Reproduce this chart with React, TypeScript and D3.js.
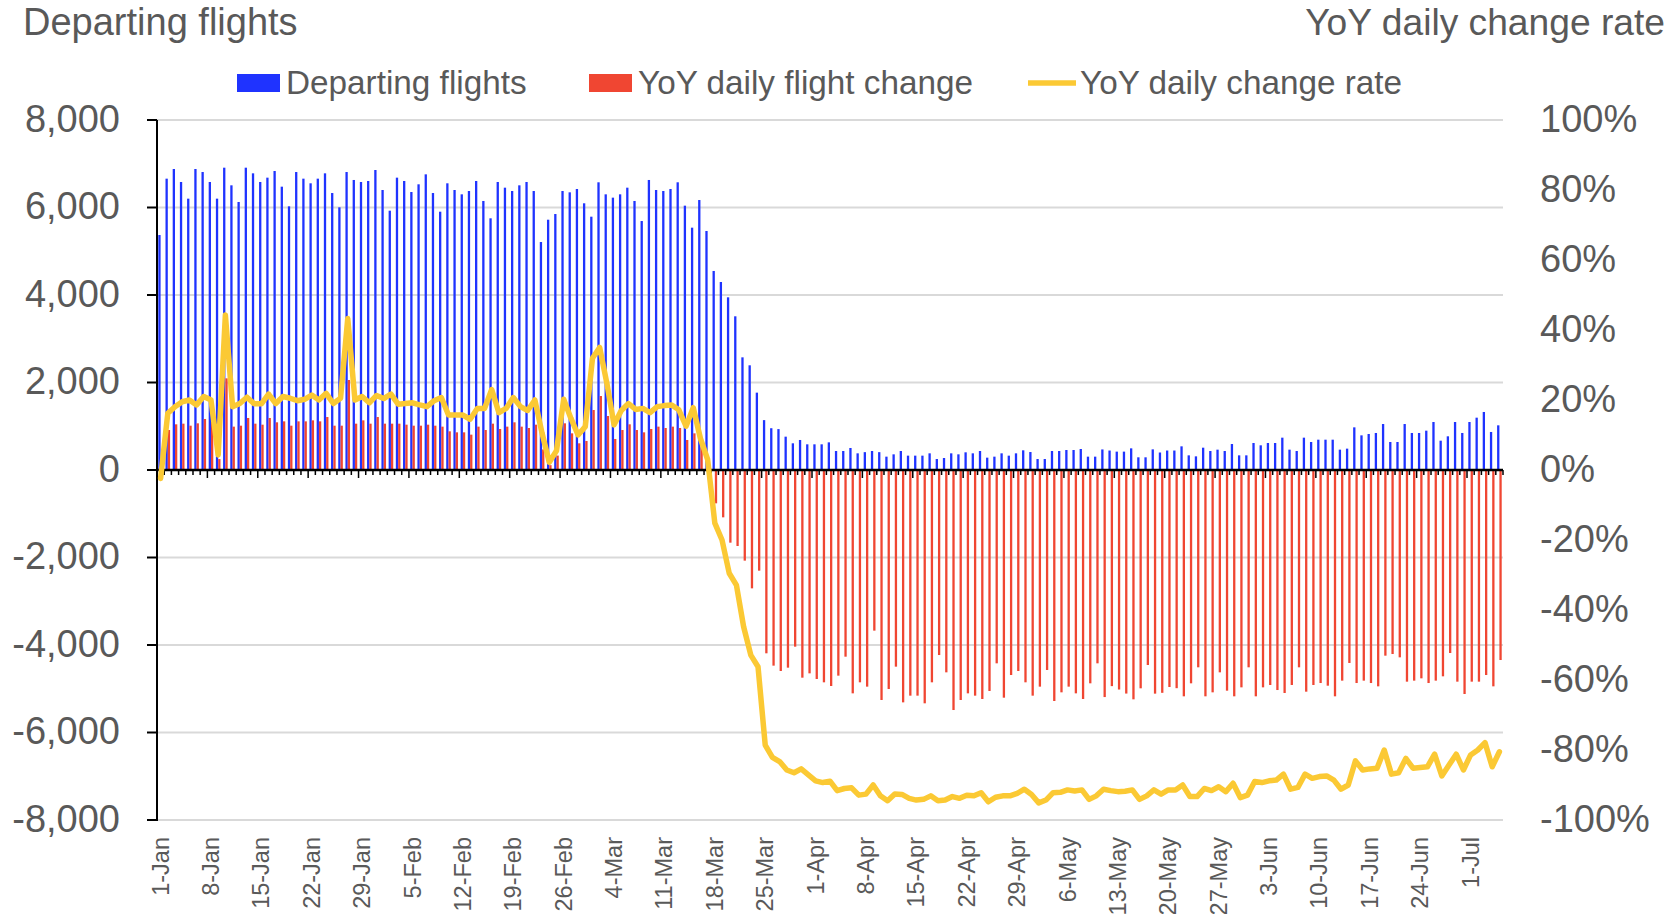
import * as d3 from 'd3';

// daily values, 1-Jan .. 5-Jul (187 days)
const departing = [
  5371, 6659, 6880, 6583, 6202, 6880, 6811, 6583, 6202, 6910, 6507, 6126, 6910, 6781, 6583, 6682, 6834, 6476, 6027, 6811,
  6659, 6553, 6659, 6781, 6331, 6004, 6811, 6629, 6583, 6606, 6857, 6400, 5927, 6682, 6606, 6354, 6530, 6758, 6331, 5904,
  6553, 6400, 6301, 6377, 6606, 6149, 5753, 6583, 6453, 6377, 6507, 6583, 6377, 5211, 5721, 5851, 6377, 6347, 6423, 6096,
  5790, 6576, 6301, 6225, 6301, 6453, 6149, 5691, 6629, 6400, 6377, 6423, 6576, 6042, 5539, 6171, 5463, 4549, 4297, 3947,
  3513, 2575, 2393, 1768, 1140, 955, 935, 762, 610, 686, 587, 587, 587, 632, 434, 434, 503, 381, 408, 434,
  408, 305, 358, 434, 328, 328, 328, 381, 251, 274, 381, 358, 404, 381, 434, 282, 305, 381, 328, 381,
  450, 411, 251, 251, 434, 434, 457, 457, 480, 305, 305, 470, 445, 420, 420, 495, 290, 290, 472, 400,
  445, 445, 541, 335, 312, 510, 434, 465, 434, 594, 335, 335, 617, 564, 617, 617, 739, 465, 434, 739,
  640, 693, 693, 693, 465, 488, 975, 792, 823, 846, 1051, 640, 640, 1051, 846, 846, 899, 1097, 670, 770,
  1097, 846, 1097, 1196, 1326, 869, 1021,
];

const flightChange = [
  -130, 914, 1044, 1059, 1013, 1067, 1166, 1097, 250, 2095, 991, 1013, 1189, 1059, 1036, 1189, 1090, 1112, 1013, 1112,
  1112, 1135, 1112, 1211, 1013, 1013, 2057, 1059, 1135, 1059, 1211, 1059, 1059, 1059, 1036, 1013, 1013, 1036, 1013, 991,
  884, 861, 861, 808, 991, 914, 1059, 937, 991, 1090, 991, 960, 1036, 470, 110, 330, 1067, 838, 610, 663,
  1371, 1691, 1234, 709, 914, 1044, 914, 861, 937, 991, 960, 991, 960, 686, 838, 520, 160, -762, -1082, -1661,
  -1737, -2072, -2705, -2301, -4190, -4472, -4594, -4518, -4038, -4747, -4648, -4777, -4853, -4937, -4701, -4267, -5105, -4853, -4952, -3672,
  -5257, -5006, -4495, -5311, -5158, -5158, -5333, -4853, -4229, -4625, -5486, -5257, -5105, -5158, -5234, -5051, -4419, -5204, -4686, -4594,
  -4853, -5158, -4952, -4571, -5280, -5082, -4952, -5105, -5234, -4876, -4419, -5190, -4940, -5018, -5110, -5242, -4990, -4457, -5112, -5093,
  -4960, -4987, -5173, -4876, -4510, -5173, -5082, -4625, -5044, -5173, -4968, -4510, -5173, -4968, -4914, -5029, -5097, -4914, -4510, -5067,
  -4914, -4869, -4930, -5173, -4815, -4411, -4869, -4815, -4869, -4945, -4244, -4206, -4282, -4838, -4815, -4762, -4869, -4815, -4716, -4183,
  -4838, -5120, -4838, -4838, -4686, -4945, -4343,
];

// YoY daily change rate, %
const changeRate = [
  -2.4, 16.2, 18.1, 19.5, 20, 18.6, 21, 20, 4.3, 44.3, 18.1, 19, 20.8, 18.9, 18.9, 21.7, 19, 21, 20.5, 19.8,
  20.2, 21.4, 20, 21.9, 19, 20.5, 43.3, 20, 21, 19.2, 21.3, 20.4, 21.7, 18.8, 19, 19.2, 18.6, 18.1, 19.8, 20.7,
  15.7, 15.7, 15.7, 14.5, 17.6, 17.6, 23, 16.4, 17.6, 20.7, 18.1, 17, 20, 10.5, 2.2, 5.5, 20.2, 14.8, 10, 12.4,
  31.9, 35, 24.8, 12.9, 17, 19, 17.3, 17.6, 16.4, 18.1, 18.4, 18.6, 17.2, 12.5, 17.8, 9, 3, -15.2, -20, -29.5,
  -32.9, -44.8, -52.9, -56.2, -78.6, -82.1, -83.3, -85.7, -86.5, -85.4, -87.1, -88.8, -89.3, -88.9, -91.6, -91, -90.8, -92.9, -92.6, -90,
  -93.1, -94.5, -92.6, -92.7, -93.8, -94.3, -94.1, -93.1, -94.5, -94.3, -93.3, -93.8, -92.9, -93.1, -92.2, -94.8, -93.5, -93.1, -93.1, -92.4,
  -91.2, -92.7, -95.1, -94.3, -92.2, -92.1, -91.4, -91.7, -91.4, -94.1, -93.1, -91.2, -91.6, -91.9, -91.8, -91.4, -94.1, -93.1, -91.4, -92.6,
  -91.4, -91.4, -90, -93.3, -93.3, -91, -91.6, -90.5, -91.9, -89.5, -93.6, -92.9, -89, -89.3, -88.8, -88.6, -86.9, -91.2, -90.7, -86.9,
  -88.1, -87.6, -87.4, -88.6, -91.2, -90, -83.1, -85.7, -85.4, -85.2, -80, -86.9, -86.5, -82.4, -85.2, -85, -84.8, -81.2, -87.4, -84.3,
  -81.2, -85.7, -81.4, -80, -77.9, -84.8, -80.5,
];

const tickLabels = [
  '1-Jan', '8-Jan', '15-Jan', '22-Jan', '29-Jan', '5-Feb', '12-Feb', '19-Feb', '26-Feb', '4-Mar', '11-Mar', '18-Mar',
  '25-Mar', '1-Apr', '8-Apr', '15-Apr', '22-Apr', '29-Apr', '6-May', '13-May', '20-May', '27-May', '3-Jun', '10-Jun',
  '17-Jun', '24-Jun', '1-Jul',
];

const leftTicks = [-8000, -6000, -4000, -2000, 0, 2000, 4000, 6000, 8000];
const rightTicks = [-1, -0.8, -0.6, -0.4, -0.2, 0, 0.2, 0.4, 0.6, 0.8, 1];

const W = 1673;
const H = 914;
const FONT = '"Liberation Sans", Arial, sans-serif';
const TEXT = '#595959';
const BLUE = '#1f33ff';
const RED = '#f04632';
const YELLOW = '#fbc934';

const fmt = (v: number) => d3.format(',')(v).replace('\u2212', '-');

export default function App() {
  const days = d3.range(departing.length);
  const x = d3.scaleBand<number>().domain(days).range([157, 1503]);
  const yL = d3.scaleLinear().domain([-8000, 8000]).range([820, 120]);
  const yR = d3.scaleLinear().domain([-1, 1]).range([820, 120]);
  const bw = x.bandwidth();
  const barW = 2.3;
  const cx = (i: number) => (x(i) as number) + bw / 2;

  const line = d3.line<number>()
    .x((_, i) => cx(i))
    .y(d => yR(d / 100));

  const y0 = yL(0);

  return (
    <svg width={W} height={H} style={{ position: 'absolute', left: 0, top: 0, background: '#fff' }} fontFamily={FONT}>
      {/* titles */}
      <text x={23} y={35} fontSize={38} fill={TEXT}>Departing flights</text>
      <text x={1665} y={35} fontSize={37.2} fill={TEXT} textAnchor="end">YoY daily change rate</text>

      {/* legend */}
      <g fontSize={33.3} fill={TEXT}>
        <rect x={237} y={74} width={43} height={18} fill={BLUE} />
        <text x={286} y={82} dominantBaseline="central">Departing flights</text>
        <rect x={589} y={74} width={43} height={18} fill={RED} />
        <text x={638} y={82} dominantBaseline="central">YoY daily flight change</text>
        <line x1={1028} x2={1076} y1={83} y2={83} stroke={YELLOW} strokeWidth={5.5} />
        <text x={1080} y={82} dominantBaseline="central">YoY daily change rate</text>
      </g>

      {/* gridlines */}
      {leftTicks.filter(t => t !== 0).map(t => (
        <line key={t} x1={157} x2={1503} y1={yL(t)} y2={yL(t)} stroke="#d9d9d9" strokeWidth={2} />
      ))}

      {/* left axis */}
      <line x1={157} x2={157} y1={120} y2={821} stroke="#000" strokeWidth={2} />
      {leftTicks.map(t => (
        <g key={t}>
          <line x1={147} x2={157} y1={yL(t)} y2={yL(t)} stroke="#000" strokeWidth={2} />
          <text x={120} y={yL(t) - 1.5} fontSize={38} fill={TEXT} textAnchor="end" dominantBaseline="central">
            {fmt(t)}
          </text>
        </g>
      ))}

      {/* right axis labels */}
      {rightTicks.map(t => (
        <text key={t} x={1540} y={yR(t) - 1.5} fontSize={38} fill={TEXT} dominantBaseline="central">
          {`${Math.round(t * 100)}%`}
        </text>
      ))}

      {/* bars */}
      {departing.map((v, i) => (
        <rect key={'b' + i} x={cx(i) - barW} width={barW} y={Math.min(yL(v), y0)} height={Math.abs(yL(v) - y0)} fill={BLUE} />
      ))}
      {flightChange.map((v, i) => (
        <rect key={'r' + i} x={cx(i)} width={barW} y={Math.min(yL(v), y0)} height={Math.abs(yL(v) - y0)} fill={RED} />
      ))}

      {/* zero axis with day ticks */}
      <line x1={157} x2={1503} y1={y0} y2={y0} stroke="#000" strokeWidth={2.5} />
      {d3.range(departing.length + 1).map(i => (
        <line key={'t' + i} x1={157 + i * bw} x2={157 + i * bw} y1={y0} y2={y0 + (i % 7 === 0 ? 8 : 5)} stroke="#000" strokeWidth={1.5} />
      ))}

      {/* rate line */}
      <path d={line(changeRate) || ''} fill="none" stroke={YELLOW} strokeWidth={5.5} strokeLinejoin="round" strokeLinecap="round" />

      {/* x tick labels */}
      {tickLabels.map((lab, k) => (
        <text key={lab} transform={`translate(${cx(k * 7)},837) rotate(-90)`} fontSize={23.5} fill={TEXT}
          textAnchor="end" dominantBaseline="central">
          {lab}
        </text>
      ))}
    </svg>
  );
}
